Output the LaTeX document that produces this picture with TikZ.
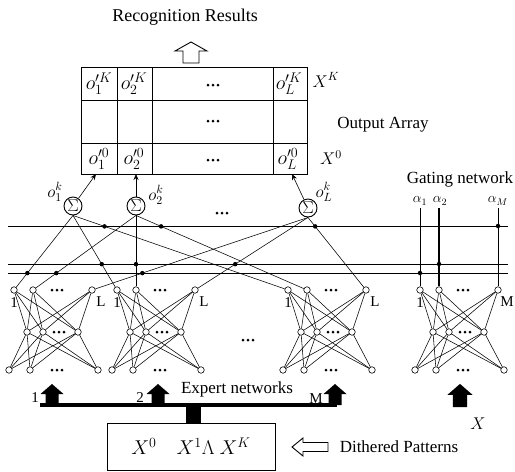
\RequirePackage{fix-cm}
\documentclass[tikz,border=0pt]{standalone}
\usepackage{fontspec}
\setmainfont{Liberation Serif}
\usetikzlibrary{calc,arrows.meta}

\newcommand\mknet[3]{%
  \node[unit] (#1b1) at ({#2},370) {};
  \node[unit] (#1b2) at ({#2+21},370) {};
  \node[unit] (#1b3) at ({#2+89},370) {};
  \node[unit] (#1m1) at ({#2+18},332) {};
  \node[unit] (#1m2) at ({#2+34},332) {};
  \node[unit] (#1m3) at ({#2+69},332) {};
  \node[unit] (#1t1) at ({#2+5},290) {};
  \node[unit] (#1t2) at ({#2+24},290) {};
  \node[unit] (#1t3) at ({#2+83},290) {};
  \foreach \i in {1,2,3}{\foreach \j in {1,2,3}{%
    \draw[conn] (#1b\i) -- (#1m\j);
    \draw[conn] (#1m\i) -- (#1t\j);}}
  \pic at ({#2+48},290) {tridots};
  \pic at ({#2+50},332) {tridots};
  \pic at ({#2+48},370) {tridots};
  \node[lbl] (#1lab1) at ($(#1t1)+(0,13)$) {1};
  \node[lbl] (#1lab3) at ($(#1t3)+(9,12)$) {#3};
}

\begin{document}
\begin{tikzpicture}[x=1pt,y=-1pt,
  unit/.style={circle,draw,fill=white,inner sep=0pt,minimum size=6.5pt,line width=0.6pt},
  sumnode/.style={circle,draw,inner sep=0pt,minimum size=18pt,line width=0.9pt,font=\fontsize{17}{17}\selectfont},
  conn/.style={line width=0.55pt},
  hline/.style={line width=0.7pt},
  tab/.style={line width=0.9pt},
  lbl/.style={font=\fontsize{15}{15}\selectfont,inner sep=0pt},
  txt/.style={font=\fontsize{17}{17}\selectfont,inner sep=0pt},
  cell/.style={font=\fontsize{20}{20}\selectfont,inner sep=0pt},
  alab/.style={font=\fontsize{14}{14}\selectfont,inner sep=0pt},
  junction/.style={circle,fill,inner sep=0pt,minimum size=4.5pt},
  arr/.style={line width=0.6pt,-{Stealth[length=6pt,width=5pt]}},
  hollow/.style={line width=0.9pt,fill=white},
  tridots/.pic={\foreach \i in {-1,0,1} \fill (\i*5,0) circle (1.5pt);},
  blkarrow/.pic={\fill (-6.5,0) -- (-6.5,-11) -- (-11.5,-11) -- (0,-21) -- (11.5,-11) -- (6.5,-11) -- (6.5,0) -- cycle;},
]
\useasboundingbox (0,0) rectangle (515,472);

% title and output arrow
\node[txt,font=\fontsize{18}{18}\selectfont] (title) at (185,17) {Recognition Results};
\draw[hollow] (183,63) -- (183,51) -- (175,51) -- (191,42) -- (207,51) -- (199,51) -- (199,63) -- cycle;

% output array
\draw[tab] (81,67) rectangle (307,174);
\draw[tab] (81,100) -- (307,100);
\draw[tab] (81,143) -- (307,143);
\draw[tab] (117,67) -- (117,174);
\draw[tab] (152,67) -- (152,174);
\draw[tab] (273,67) -- (273,174);
\node[cell] (k1) at (99,84) {$o'^{K}_{1}$};
\node[cell] (k2) at (134,84) {$o'^{K}_{2}$};
\node[cell] (kL) at (289,84) {$o'^{K}_{L}$};
\node[cell] (z1) at (99,159) {$o'^{0}_{1}$};
\node[cell] (z2) at (134,159) {$o'^{0}_{2}$};
\node[cell] (zL) at (288,159) {$o'^{0}_{L}$};
\pic at (213,85) {tridots};
\pic at (213,121) {tridots};
\pic at (213,160) {tridots};
\node[txt] (XK) at (326,80) {$X^K$};
\node[txt] (OA) at (383,125) {Output Array};
\node[txt] (X0) at (331,158) {$X^0$};

% summation units
\node[sumnode] (S1) at (73,206) {$\Sigma$};
\node[sumnode] (S2) at (136,206) {$\Sigma$};
\node[sumnode] (SL) at (308,208) {$\Sigma$};
\node[txt] (o1) at (55,192) {$o_1^k$};
\node[txt] (o2) at (156,195) {$o_2^k$};
\node[txt] (oL) at (324,192) {$o_L^k$};
\coordinate (in1) at (96,174);
\coordinate (in2) at (136,174);
\coordinate (inL) at (292,174);
\draw[arr] (S1) -- (in1);
\draw[arr] (S2) -- (in2);
\draw[arr] (SL) -- (inL);
\pic at (222,213) {tridots};

% horizontal lines
\coordinate (H1a) at (8,226); \coordinate (H1b) at (508,226);
\coordinate (H2a) at (8,264); \coordinate (H2b) at (508,264);
\coordinate (H3a) at (8,273); \coordinate (H3b) at (508,273);
\draw[hline] (H1a) -- (H1b);
\draw[hline] (H2a) -- (H2b);
\draw[hline] (H3a) -- (H3b);

% networks
\mknet{a}{9}{L}
\mknet{b}{112}{L}
\mknet{c}{283}{L}
\mknet{g}{415}{M}
\pic at (248,340) {tridots};

% connections to summation units (from the bottom of each unit)
\foreach \n in {a,b,c}{%
  \draw[conn] (S1.south) -- (\n t1);
  \draw[conn] (S2.south) -- (\n t2);
  \draw[conn] (SL.south) -- (\n t3);}
\node[junction] (ja1) at ($(S1.south)!{(273-215)/(290-215)}!(at1)$) {};
\node[junction] (ja2) at ($(S2.south)!{(273-215)/(290-215)}!(at2)$) {};
\node[junction] (ja3) at ($(SL.south)!{(273-217)/(290-217)}!(at3)$) {};
\node[junction] (jb1) at ($(S1.south)!{(264-215)/(290-215)}!(bt1)$) {};
\node[junction] (jb2) at ($(S2.south)!{(264-215)/(290-215)}!(bt2)$) {};
\node[junction] (jb3) at ($(SL.south)!{(264-217)/(290-217)}!(bt3)$) {};
\node[junction] (jc1) at ($(S1.south)!{(226-215)/(290-215)}!(ct1)$) {};
\node[junction] (jc2) at ($(S2.south)!{(226-215)/(290-215)}!(ct2)$) {};
\node[junction] (jc3) at ($(SL.south)!{(226-217)/(290-217)}!(ct3)$) {};

% gating outputs
\coordinate (ga1) at ($(gt1)+(0,-82)$);
\coordinate (ga2) at ($(gt2)+(0,-82)$);
\coordinate (gaM) at ($(gt3)+(0,-82)$);
\draw[conn] (ga1) -- (gt1);
\draw[line width=1.2pt] (ga2) -- (gt2);
\draw[conn] (gaM) -- (gt3);
\node[junction] (jg1) at (gt1 |- H3a) {};
\node[junction] (jg2) at (gt2 |- H2a) {};
\node[junction] (jgM) at (gt3 |- H1a) {};
\node[alab] (al1) at ($(gt1)+(0,-89)$) {$\alpha_1$};
\node[alab] (al2) at ($(gt2)+(1,-89)$) {$\alpha_2$};
\node[alab] (alM) at ($(gt3)+(0,-89)$) {$\alpha_M$};
\node[txt] (gating) at (460,179) {Gating network};

% inputs
\fill (40,403) rectangle (337,407);
\fill (186,405) rectangle (201,423);
\pic at (52,405) {blkarrow};
\pic at (158,405) {blkarrow};
\pic at (335,405) {blkarrow};
\pic[scale=1.1] at (460,407) {blkarrow};
\node[lbl] (n1) at (35,398) {1};
\node[lbl] (n2) at (140,398) {2};
\node[lbl] (nM) at (316,399) {M};
\node[txt] (EN) at (237,389) {Expert networks};
\node[txt] (Xin) at (478,424) {$X$};

\node[draw,line width=0.9pt,minimum width=168pt,minimum height=47pt,inner sep=0pt,
      font=\fontsize{20}{20}\selectfont] (pat) at (191,446.5) {$X^0\quad X^1\Lambda\ X^K$};
\draw[hollow] (328,442.5) -- (303,442.5) -- (303,438) -- (292,447) -- (303,456) -- (303,451.5) -- (328,451.5) -- cycle;
\node[txt] (DP) at (399,447) {Dithered Patterns};
\end{tikzpicture}
\end{document}
